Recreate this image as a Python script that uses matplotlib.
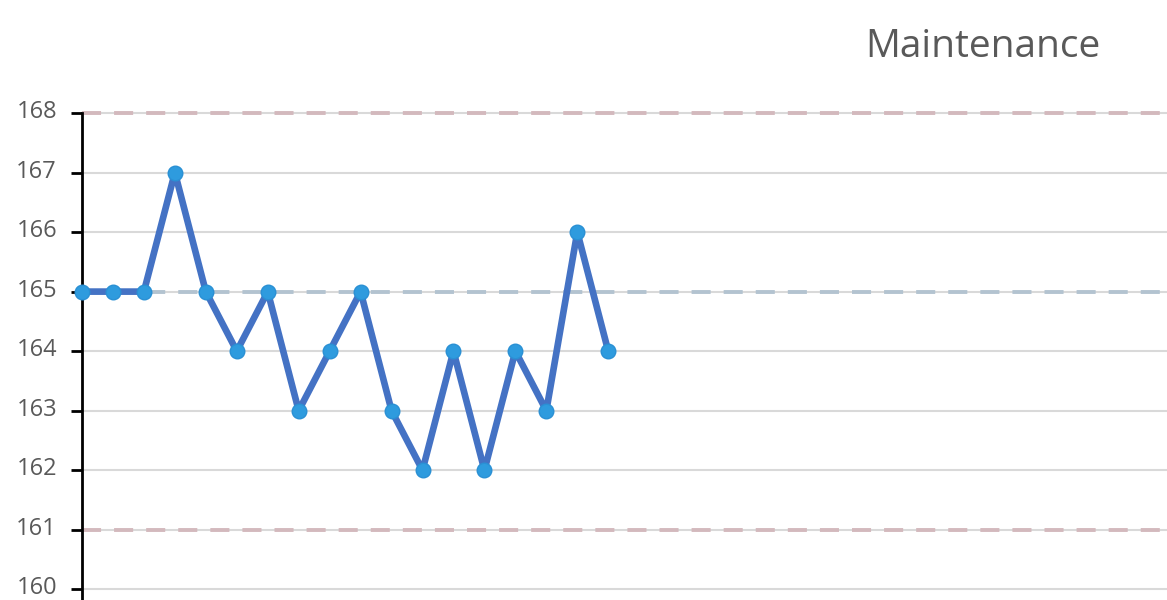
import matplotlib.pyplot as plt
import matplotlib.transforms as mtransforms
import numpy as np

plt.rcParams['font.family'] = ['Open Sans', 'DejaVu Sans']

# readings per sample
values = [165, 165, 165, 167, 165, 164, 165, 163, 164, 165, 163, 162, 164, 162, 164, 163, 166, 164]
center_line = 165
upper_limit = 168
lower_limit = 161
y_ticks = [160, 161, 162, 163, 164, 165, 166, 167, 168]
title = 'Maintenance'

fig = plt.figure(figsize=(11.67, 6.0), dpi=100)
ax = fig.add_axes([82 / 1167, 0.0, 1 - 82 / 1167, 1 - 113 / 600])

x = np.arange(len(values))

# grid lines
for t in y_ticks:
    ax.axhline(t, color='#d9d9d9', lw=1.5, zorder=1, clip_on=False)

# control limits and center line
dash = (0, (4.9, 3.35))
ax.axhline(upper_limit, color='#d3b9bd', lw=2.8, ls=dash, zorder=2, clip_on=False)
ax.axhline(lower_limit, color='#d3b9bd', lw=2.8, ls=dash, zorder=2)
ax.axhline(center_line, color='#b3c3d0', lw=2.8, ls=dash, zorder=2)

ax.plot(x, values, color='#4472c4', lw=4.8, marker='o', markersize=10.5,
        markerfacecolor='#2e9bde', markeredgecolor='#2a90d4', markeredgewidth=1,
        zorder=3, clip_on=False)

ax.set_xlim(0, 35.05)
ax.set_ylim(159.82, 168)
ax.set_yticks(y_ticks)
ax.set_xticks([])

for s in ['top', 'right', 'bottom']:
    ax.spines[s].set_visible(False)
ax.spines['left'].set_linewidth(2)
ax.spines['left'].set_color('black')
ax.tick_params(axis='y', direction='out', length=8, width=2, color='black',
               labelsize=17, labelcolor='#595959', pad=10)

# labels sit a little above their grid lines, as in the original
shift = mtransforms.ScaledTranslation(0, 4 / 100, fig.dpi_scale_trans)
for lab in ax.get_yticklabels():
    lab.set_transform(lab.get_transform() + shift)

fig.text(983 / 1167, 1 - 47 / 600, title, ha='center', va='center',
         fontsize=28, color='#595959')

fig.savefig('out.png', dpi=100)
